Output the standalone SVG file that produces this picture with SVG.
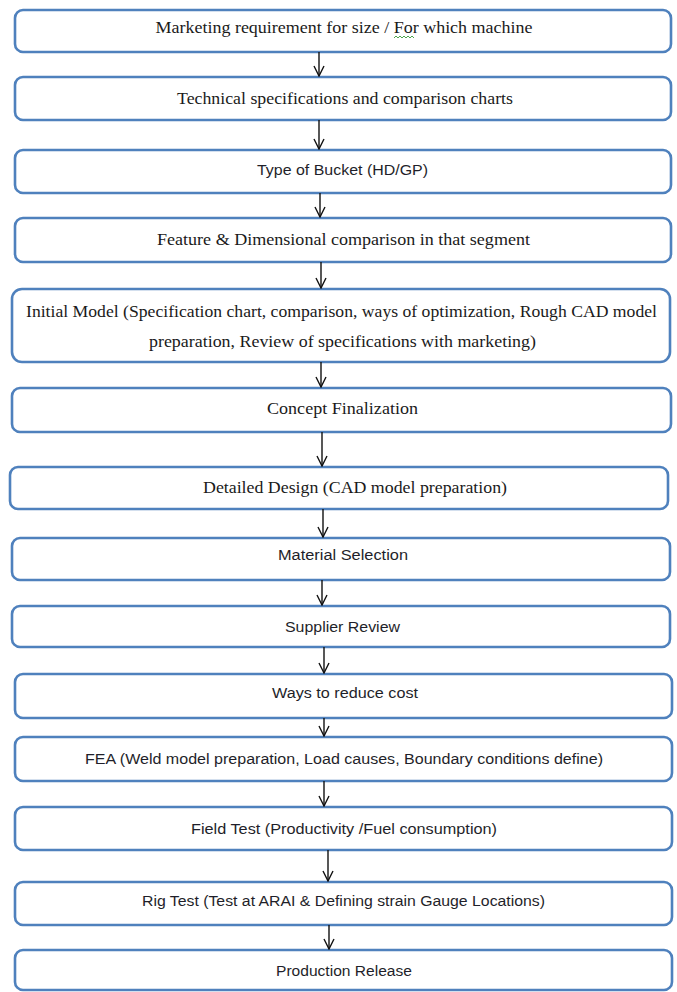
<svg xmlns="http://www.w3.org/2000/svg" width="677" height="992" viewBox="0 0 677 992">
<style>
  .box { fill: #ffffff; stroke: #4f81bd; stroke-width: 2.6; }
  .serif { font-family: "Liberation Serif", "Times New Roman", serif; font-size: 17.6px; fill: #1a1a1a; text-anchor: middle; }
  .sans { font-family: "Liberation Sans", Arial, sans-serif; font-size: 15.5px; fill: #1f1f2a; text-anchor: middle; }
  .conn { stroke: #111111; stroke-width: 1.4; fill: none; marker-end: url(#arr); }
</style>
<defs>
  <marker id="arr" viewBox="0 0 12 12" refX="11" refY="6" markerWidth="12" markerHeight="12" markerUnits="userSpaceOnUse" orient="auto">
    <path d="M1,1 L11,6 L1,11" fill="none" stroke="#111111" stroke-width="1.4"/>
  </marker>
</defs>
<rect width="677" height="992" fill="#ffffff"/>

<g id="n1"><rect class="box" x="15" y="10" width="656" height="42" rx="8"/>
  <text class="serif" x="344" y="33" textLength="377" lengthAdjust="spacingAndGlyphs">Marketing requirement for size / For which machine</text>
  <path d="M394,38 l2,-2 l2,2 l2,-2 l2,2 l2,-2 l2,2 l2,-2 l2,2 l2,-2 l2,2" fill="none" stroke="#3a9a3a" stroke-width="0.9"/></g>
<g id="n2"><rect class="box" x="15" y="77" width="656" height="43" rx="8"/>
  <text class="serif" x="345" y="104" textLength="336" lengthAdjust="spacingAndGlyphs">Technical specifications and comparison charts</text></g>
<g id="n3"><rect class="box" x="15" y="150" width="656" height="43" rx="8"/>
  <text class="sans" x="342.5" y="175" textLength="171" lengthAdjust="spacingAndGlyphs">Type of Bucket (HD/GP)</text></g>
<g id="n4"><rect class="box" x="15" y="218" width="656" height="44" rx="8"/>
  <text class="serif" x="343.5" y="245" textLength="373" lengthAdjust="spacingAndGlyphs">Feature &amp; Dimensional comparison in that segment</text></g>
<g id="n5"><rect class="box" x="12" y="289" width="658" height="73" rx="10"/>
  <text class="serif" x="341.5" y="317" textLength="631" lengthAdjust="spacingAndGlyphs">Initial Model (Specification chart, comparison, ways of optimization, Rough CAD model</text>
  <text class="serif" x="342.5" y="347" textLength="387" lengthAdjust="spacingAndGlyphs">preparation, Review of specifications with marketing)</text></g>
<g id="n6"><rect class="box" x="12" y="388" width="659" height="44" rx="8"/>
  <text class="serif" x="342.5" y="414" textLength="151" lengthAdjust="spacingAndGlyphs">Concept Finalization</text></g>
<g id="n7"><rect class="box" x="10" y="467" width="658" height="42" rx="8"/>
  <text class="serif" x="355" y="493" textLength="304" lengthAdjust="spacingAndGlyphs">Detailed Design (CAD model preparation)</text></g>
<g id="n8"><rect class="box" x="12" y="538" width="658" height="42" rx="8"/>
  <text class="sans" x="343" y="560" textLength="130" lengthAdjust="spacingAndGlyphs">Material Selection</text></g>
<g id="n9"><rect class="box" x="12" y="606" width="658" height="41" rx="8"/>
  <text class="sans" x="342.5" y="632" textLength="115" lengthAdjust="spacingAndGlyphs">Supplier Review</text></g>
<g id="n10"><rect class="box" x="15" y="674" width="657" height="44" rx="8"/>
  <text class="sans" x="345" y="698" textLength="146" lengthAdjust="spacingAndGlyphs">Ways to reduce cost</text></g>
<g id="n11"><rect class="box" x="15" y="737" width="657" height="44" rx="8"/>
  <text class="sans" x="344" y="764" textLength="518" lengthAdjust="spacingAndGlyphs">FEA (Weld model preparation, Load causes, Boundary conditions define)</text></g>
<g id="n12"><rect class="box" x="15" y="807" width="657" height="43" rx="8"/>
  <text class="sans" x="344" y="834" textLength="306" lengthAdjust="spacingAndGlyphs">Field Test (Productivity /Fuel consumption)</text></g>
<g id="n13"><rect class="box" x="15" y="882" width="657" height="43" rx="8"/>
  <text class="sans" x="343.5" y="906" textLength="403" lengthAdjust="spacingAndGlyphs">Rig Test (Test at ARAI &amp; Defining strain Gauge Locations)</text></g>
<g id="n14"><rect class="box" x="15" y="950" width="657" height="40" rx="8"/>
  <text class="sans" x="344" y="976" textLength="136" lengthAdjust="spacingAndGlyphs">Production Release</text></g>

<g id="connectors">
  <line class="conn" x1="319" y1="52" x2="319" y2="76"/>
  <line class="conn" x1="319" y1="120" x2="319" y2="149"/>
  <line class="conn" x1="320" y1="193" x2="320" y2="217"/>
  <line class="conn" x1="321" y1="262" x2="321" y2="288"/>
  <line class="conn" x1="321" y1="362" x2="321" y2="387"/>
  <line class="conn" x1="322" y1="432" x2="322" y2="466"/>
  <line class="conn" x1="323" y1="509" x2="323" y2="537"/>
  <line class="conn" x1="322" y1="580" x2="322" y2="605"/>
  <line class="conn" x1="324" y1="647" x2="324" y2="673"/>
  <line class="conn" x1="324" y1="718" x2="324" y2="736"/>
  <line class="conn" x1="324" y1="781" x2="324" y2="806"/>
  <line class="conn" x1="328" y1="850" x2="328" y2="881"/>
  <line class="conn" x1="329" y1="925" x2="329" y2="949"/>
</g>
</svg>
